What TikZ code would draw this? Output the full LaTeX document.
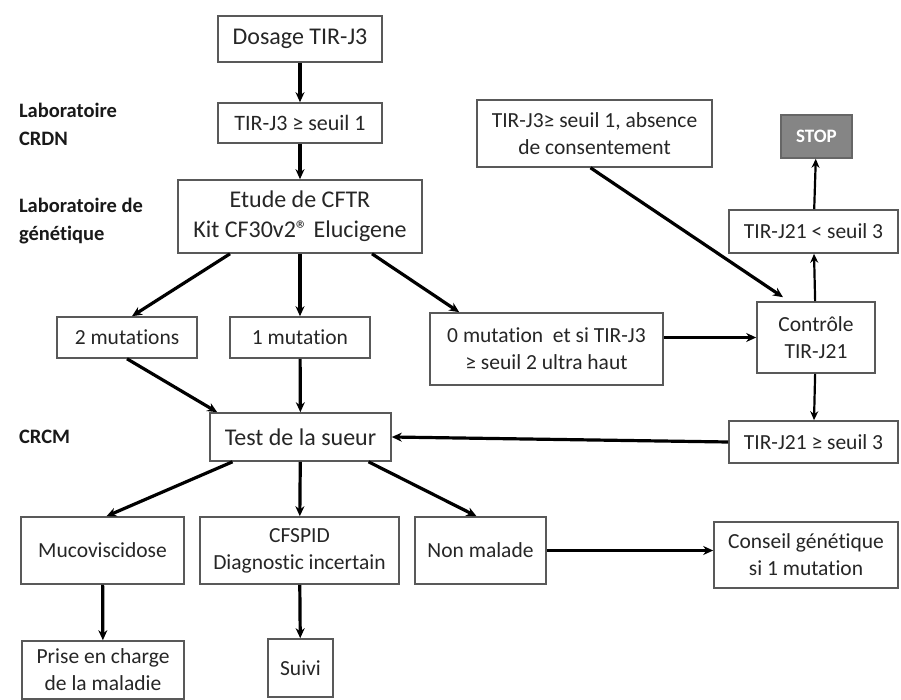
\documentclass[tikz,border=0pt]{standalone}
\usepackage{fontspec}
\setmainfont{Carlito}[Ligatures={NoCommon,NoRare}]
\usetikzlibrary{arrows.meta,calc}
\begin{document}
\begin{tikzpicture}[x=0.5pt,y=-0.5pt,
  box/.style={draw=black!65,line width=0.8pt,fill=white,text=black!85,align=center,inner sep=0pt,font=\fontsize{10.75}{13.5}\selectfont},
  big/.style={font=\fontsize{12}{15}\selectfont},
  lab/.style={anchor=west,align=left,text=black!90,font=\bfseries\fontsize{10.25}{14}\selectfont},
  arr/.style={-{Stealth[length=5pt,width=4.5pt]},line width=1.6pt},
  tarr/.style={-{Stealth[length=4.5pt,width=4pt]},line width=1.1pt}]
\useasboundingbox (0,0) rectangle (901,700);
\fill[white] (0,0) rectangle (901,700);

% left labels
\node[lab] (l1) at (12,124) {Laboratoire\\CRDN};
\node[lab] (l2) at (12,221) {Laboratoire de\\génétique};
\node[lab] (l3) at (12,437) {CRCM};

% boxes
\node[box,big,minimum width=82pt,minimum height=23pt] (dosage) at (300,39) {Dosage TIR-J3};
\node[box,font=\fontsize{11}{13.5}\selectfont,minimum width=82pt,minimum height=20pt] (seuil1) at (300,123) {TIR-J3 ≥ seuil 1};
\node[box,big,minimum width=122pt,minimum height=36.5pt] (etude) at (300,216.5) {Etude de CFTR\\Kit CF30v2® Elucigene};
\node[box,minimum width=70pt,minimum height=20.5pt] (mut2) at (127,337.5) {2 mutations};
\node[box,minimum width=70pt,minimum height=20.5pt] (mut1) at (300,337.5) {1 mutation};
\node[box,minimum width=116.5pt,minimum height=36pt] (mut0) at (546.5,349) {0 mutation~ et si TIR-J3\\≥ seuil 2 ultra haut};
\node[box,big,minimum width=90.5pt,minimum height=24pt] (test) at (300.5,437) {Test de la sueur};
\node[box,minimum width=59pt,minimum height=35.5pt] (controle) at (816,337.5) {Contrôle\\TIR-J21};
\node[box,minimum width=84.5pt,minimum height=21pt] (ge3) at (813.5,442) {TIR-J21 ≥ seuil 3};
\node[box,minimum width=84.5pt,minimum height=21.5pt] (lt3) at (813.5,231.5) {TIR-J21 < seuil 3};
\node[box,draw=black!60,fill=black!48,text=white,font=\bfseries\fontsize{9.5}{11}\selectfont,minimum width=35.5pt,minimum height=21.5pt] (stop) at (816.5,136.5) {STOP};
\node[box,minimum width=117.5pt,minimum height=33.5pt] (absence) at (594.5,133.5) {TIR-J3≥ seuil 1, absence\\de consentement};
\node[box,minimum width=81.5pt,minimum height=33.5pt] (muco) at (102.5,550.5) {Mucoviscidose};
\node[box,minimum width=99.5pt,minimum height=33.5pt] (cfspid) at (299.5,550.5) {CFSPID\\Diagnostic incertain};
\node[box,minimum width=65.5pt,minimum height=33.5pt] (nonmal) at (480.5,550.5) {Non malade};
\node[box,minimum width=92pt,minimum height=33pt] (conseil) at (806,555) {Conseil génétique\\si 1 mutation};
\node[box,minimum width=81pt,minimum height=29pt] (prise) at (103,670) {Prise en charge\\de la maladie};
\node[box,minimum width=32.5pt,minimum height=29pt] (suivi) at (300.5,668) {Suivi};

% connectors
\draw[arr] (dosage) -- (seuil1);
\draw[arr] (seuil1) -- (etude);
\draw[arr] ([xshift=-35pt]etude.south) -- ([xshift=2.5pt]mut2.north);
\draw[arr] (etude) -- (mut1);
\draw[arr] ([xshift=36pt]etude.south) -- ([xshift=15pt]mut0.north west);
\draw[arr] (mut2.south) -- ([xshift=4pt]test.north west);
\draw[arr] (mut1) -- (test);
\draw[arr] ([xshift=-34pt]test.south) -- ([xshift=2pt]muco.north);
\draw[arr] (test) -- (cfspid);
\draw[arr] ([xshift=34pt]test.south) -- ([xshift=-2pt]nonmal.north);
\draw[arr] (nonmal.east) -- (nonmal.east -| conseil.west);
\draw[arr] (muco) -- (prise);
\draw[arr] (cfspid) -- (suivi);
\draw[arr] (mut0.east |- controle.west) -- (controle.west);
\draw[tarr] (controle) -- (lt3);
\draw[tarr] (lt3) -- (stop);
\draw[tarr] (controle) -- (ge3);
\draw[arr] (ge3.west) -- (test.east);
\draw[arr] ([xshift=-2pt]absence.south) -- ([xshift=-16.5pt,yshift=2pt]controle.north);
\end{tikzpicture}
\end{document}
